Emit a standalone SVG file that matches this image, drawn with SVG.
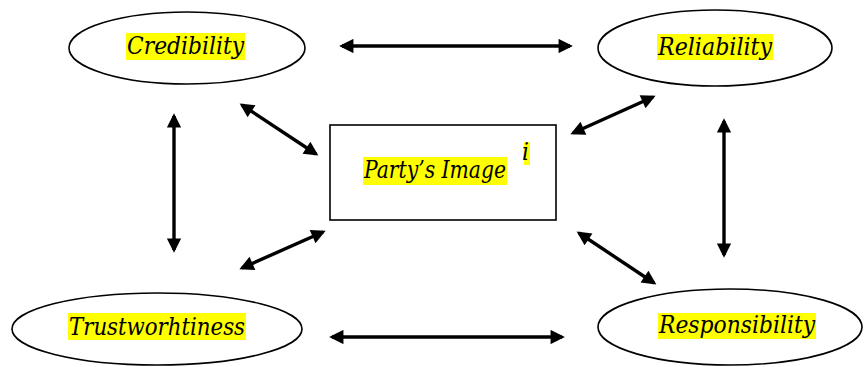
<svg xmlns="http://www.w3.org/2000/svg" width="866" height="367" viewBox="0 0 866 367">
  <style>
    .node { fill: #ffffff; stroke: #000000; stroke-width: 1.6; }
    .hl { fill: #ffff00; }
    .label { font-family: "DejaVu Serif Condensed", "DejaVu Serif", "Liberation Serif", serif; font-style: italic; font-size: 24px; fill: #000000; }
    .link { stroke: #000000; stroke-width: 3.4; fill: none; marker-start: url(#head); marker-end: url(#head); }
  </style>
  <defs>
    <marker id="head" viewBox="0 0 10 10" refX="8" refY="5" markerWidth="4.8" markerHeight="4.2" orient="auto-start-reverse" markerUnits="strokeWidth">
      <path d="M0,0 L10,5 L0,10 Z" fill="#000000"/>
    </marker>
  </defs>

  <rect width="866" height="367" fill="#ffffff"/>

  <g id="connectors">
    <line class="link" x1="342" y1="46" x2="570" y2="46"/>
    <line class="link" x1="332" y1="337" x2="562" y2="337"/>
    <line class="link" x1="174" y1="116" x2="174" y2="250"/>
    <line class="link" x1="724" y1="121" x2="724" y2="255"/>
    <line class="link" x1="242" y1="105" x2="316" y2="154"/>
    <line class="link" x1="242" y1="268" x2="323" y2="232"/>
    <line class="link" x1="573" y1="133" x2="653" y2="97"/>
    <line class="link" x1="579" y1="233" x2="654" y2="283"/>
  </g>

  <g id="credibility">
    <ellipse class="node" cx="187" cy="48" rx="118" ry="36"/>
    <rect class="hl" x="126" y="33" width="119" height="27"/>
    <text class="label" x="127" y="54" textLength="117" lengthAdjust="spacingAndGlyphs">Credibility</text>
  </g>

  <g id="reliability">
    <ellipse class="node" cx="715" cy="48" rx="117" ry="38"/>
    <rect class="hl" x="657" y="34" width="116" height="26"/>
    <text class="label" x="658" y="55" textLength="114" lengthAdjust="spacingAndGlyphs">Reliability</text>
  </g>

  <g id="party-image">
    <rect class="node" x="330" y="125" width="226" height="95"/>
    <rect class="hl" x="363" y="157" width="144" height="28"/>
    <text class="label" x="364" y="178" textLength="142" lengthAdjust="spacingAndGlyphs">Party’s Image</text>
    <rect class="hl" x="524" y="142" width="6" height="23"/>
    <text class="label" x="522" y="160">i</text>
  </g>

  <g id="trustworthiness">
    <ellipse class="node" cx="157" cy="329" rx="145" ry="36"/>
    <rect class="hl" x="68" y="313" width="178" height="27"/>
    <text class="label" x="69" y="335" textLength="176" lengthAdjust="spacingAndGlyphs">Trustworhtiness</text>
  </g>

  <g id="responsibility">
    <ellipse class="node" cx="730" cy="327" rx="132" ry="38"/>
    <rect class="hl" x="658" y="313" width="158" height="26"/>
    <text class="label" x="659" y="333" textLength="156" lengthAdjust="spacingAndGlyphs">Responsibility</text>
  </g>
</svg>
